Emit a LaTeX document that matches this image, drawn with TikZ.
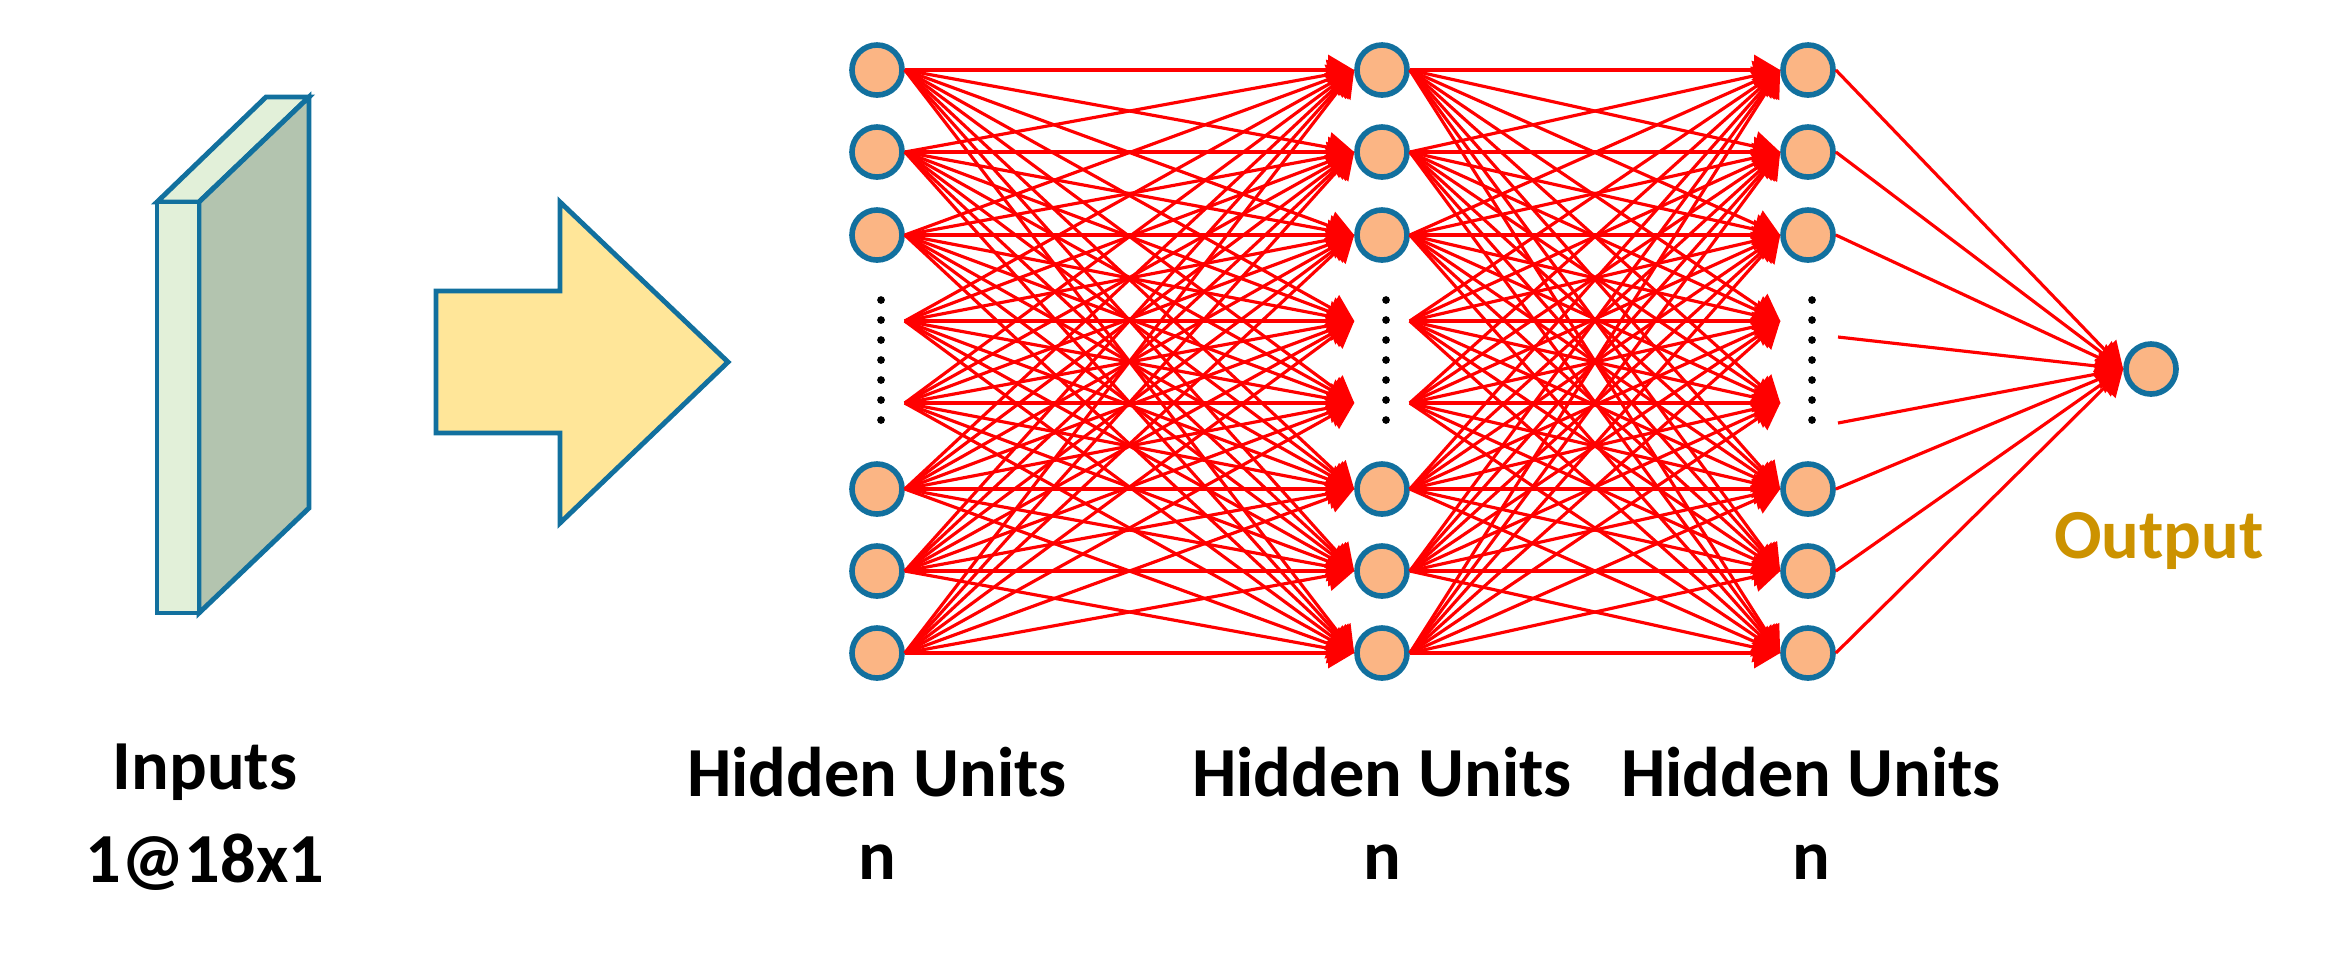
\documentclass[tikz,border=0pt]{standalone}
\usepackage{fontspec}
\setmainfont{Carlito}
\usetikzlibrary{arrows.meta}
\definecolor{nfill}{HTML}{FBB584}
\definecolor{nblue}{HTML}{12709E}
\definecolor{egr}{HTML}{E2F0D9}
\definecolor{sgr}{HTML}{B3C4AF}
\definecolor{arr}{HTML}{FFE699}
\definecolor{outc}{HTML}{CC9200}
\begin{document}
\begin{tikzpicture}[x=0.01cm,y=-0.01cm,
  unit/.style={circle,fill=nfill,draw=nblue,line width=1.6pt,minimum size=50\pgflinewidth,inner sep=0pt},
  unit/.append style={minimum size=0.5cm},
  ghost/.style={circle,draw=none,minimum size=0.54cm,inner sep=0pt},
  edge/.style={red,line width=0.9pt,-{Triangle[length=0.26cm,width=0.3cm]}},
  plain/.style={red,line width=0.9pt},
  lab/.style={font=\fontsize{20}{24}\selectfont\bfseries,align=center},
  dot/.style={circle,fill=black,inner sep=0pt,minimum size=2.2pt}]
\useasboundingbox (0,0) rectangle (2331,959);
% input slab
\draw[nblue,line width=1.4pt,fill=egr] (157,202) -- (199,202) -- (309,97) -- (266,97) -- cycle;
\draw[nblue,line width=1.4pt,fill=sgr] (199,202) -- (309,97) -- (309,508) -- (199,613) -- cycle;
\draw[nblue,line width=1.4pt,fill=egr] (157,202) rectangle (199,613);
% big arrow
\draw[nblue,line width=1.4pt,fill=arr] (436,291) -- (560,291) -- (560,202) -- (728,362) -- (560,523) -- (560,433) -- (436,433) -- cycle;
% layers
\foreach \L/\X in {1/877,2/1382,3/1808}{
  \foreach \i/\Y in {1/70,2/152,3/235,6/489,7/571,8/653}
    \node[unit] (l\L-\i) at (\X,\Y) {};
  \node[ghost] (l\L-4) at (\X,321) {};
  \node[ghost] (l\L-5) at (\X,403) {};
  \foreach \d in {0,...,6}
    \node[dot] (d\L-\d) at (\X+4,{300+\d*20}) {};
}
\node[unit] (out) at (2151,369) {};
% edges
\foreach \i in {1,...,8}{
  \foreach \j in {1,...,8}{
    \draw[edge] (l1-\i.east) -- (l2-\j.west);
    \draw[edge] (l2-\i.east) -- (l3-\j.west);
  }
}
\foreach \i in {1,2,3,6,7,8}
  \draw[edge] (l3-\i.east) -- (out.west);
\coordinate (g1) at (1838,337);
\coordinate (g2) at (1838,423);
\draw[edge] (g1) -- (out.west);
\draw[edge] (g2) -- (out.west);
% labels
\node[lab] (t1) at (205,772) {Inputs};
\node[lab] (t2) at (205,862) {1@18x1};
\node[lab] (t3) at (877,772) {Hidden Units};
\node[lab] (t4) at (877,862) {n};
\node[lab] (t5) at (1382,772) {Hidden Units};
\node[lab] (t6) at (1382,862) {n};
\node[lab] (t7) at (1811,772) {Hidden Units};
\node[lab] (t8) at (1811,862) {n};
\node[lab,text=outc] (t9) at (2159,541) {Output};
\end{tikzpicture}
\end{document}
